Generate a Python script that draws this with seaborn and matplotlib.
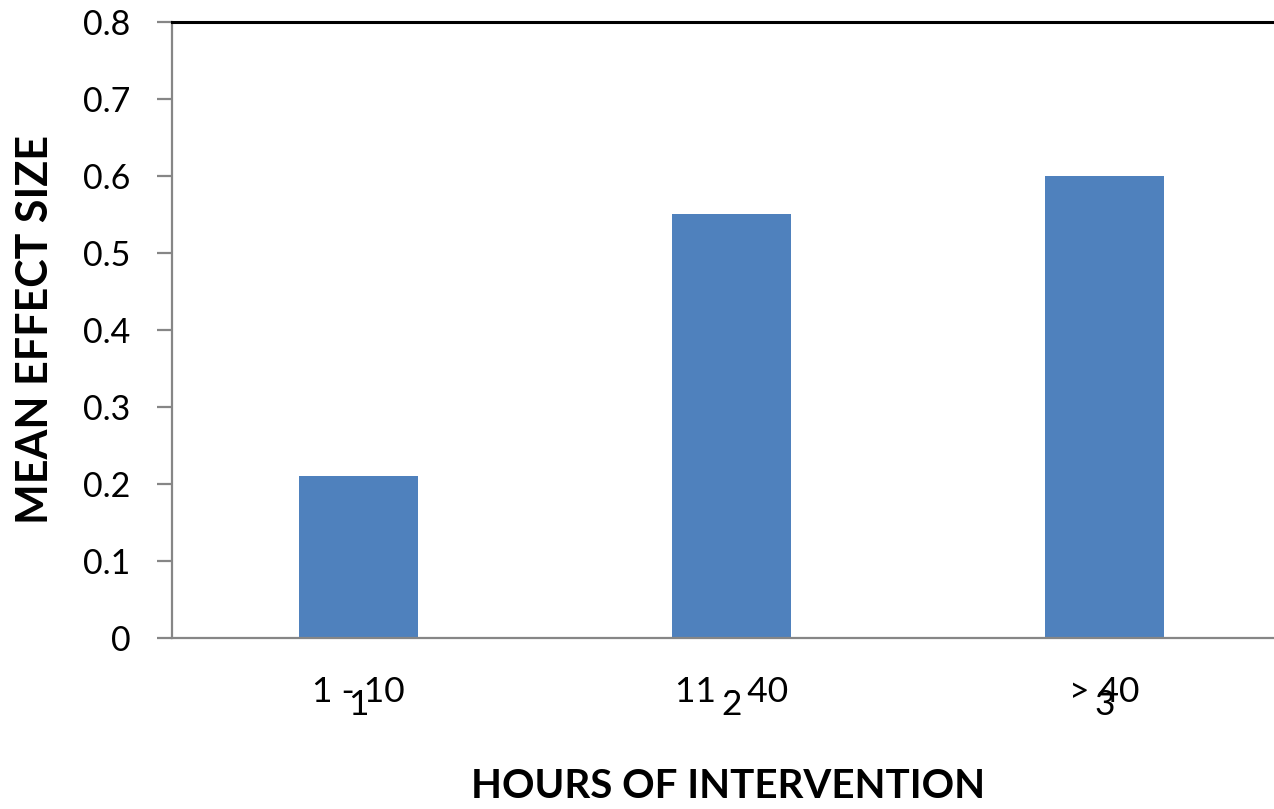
import matplotlib
matplotlib.use("Agg")
import matplotlib.pyplot as plt
import seaborn as sns
import pandas as pd

categories = ["1 - 10", "11 - 40", "> 40"]
numbers = ["1", "2", "3"]
values = [0.21, 0.55, 0.60]
yticks = [0, 0.1, 0.2, 0.3, 0.4, 0.5, 0.6, 0.7, 0.8]
ytick_labels = ["0", "0.1", "0.2", "0.3", "0.4", "0.5", "0.6", "0.7", "0.8"]

sns.set_theme(style="white")
plt.rcParams["font.family"] = ["Lato", "DejaVu Sans"]

df = pd.DataFrame({"cat": categories, "val": values})

fig = plt.figure(figsize=(12.74, 8.09), dpi=100)
W, H = 1274, 809
x0, x1 = 172, 172 + 3 * 373
y0, y1 = 638, 22
ax = fig.add_axes([x0 / W, 1 - y0 / H, (x1 - x0) / W, (y0 - y1) / H])

sns.barplot(data=df, x="cat", y="val", color="#4F81BD", width=0.32,
            saturation=1, ax=ax, edgecolor="none")

ax.set_xlim(-0.5, 2.5)
ax.set_ylim(0, 0.8)
ax.set_yticks(yticks)
ax.set_yticklabels(ytick_labels)

for s in ["left", "bottom"]:
    ax.spines[s].set_color("#868686")
    ax.spines[s].set_linewidth(1.6)
ax.spines["top"].set_color("black")
ax.spines["top"].set_linewidth(2.2)
ax.spines["right"].set_visible(False)

ax.tick_params(axis="y", which="both", left=True, length=11, width=1.6,
               color="#868686", pad=19, labelsize=24.5, labelcolor="black")
ax.tick_params(axis="x", which="both", bottom=False, length=0, pad=27,
               labelsize=25.5, labelcolor="black")

sec = ax.secondary_xaxis("bottom")
sec.set_xticks([0, 1, 2])
sec.set_xticklabels(numbers)
sec.tick_params(axis="x", length=0, pad=37, labelsize=25.5, labelcolor="black")
sec.spines["bottom"].set_visible(False)

ax.set_xlabel("")
ax.set_ylabel("")
fig.text(728 / W, 1 - 787 / H, "HOURS OF INTERVENTION", ha="center", va="center",
         fontsize=29, fontweight="bold", color="black")
fig.text(35 / W, 1 - 330 / H, "MEAN EFFECT SIZE", ha="center", va="center",
         rotation=90, fontsize=31, fontweight="bold", color="black")

fig.savefig("out.png", dpi=100)
